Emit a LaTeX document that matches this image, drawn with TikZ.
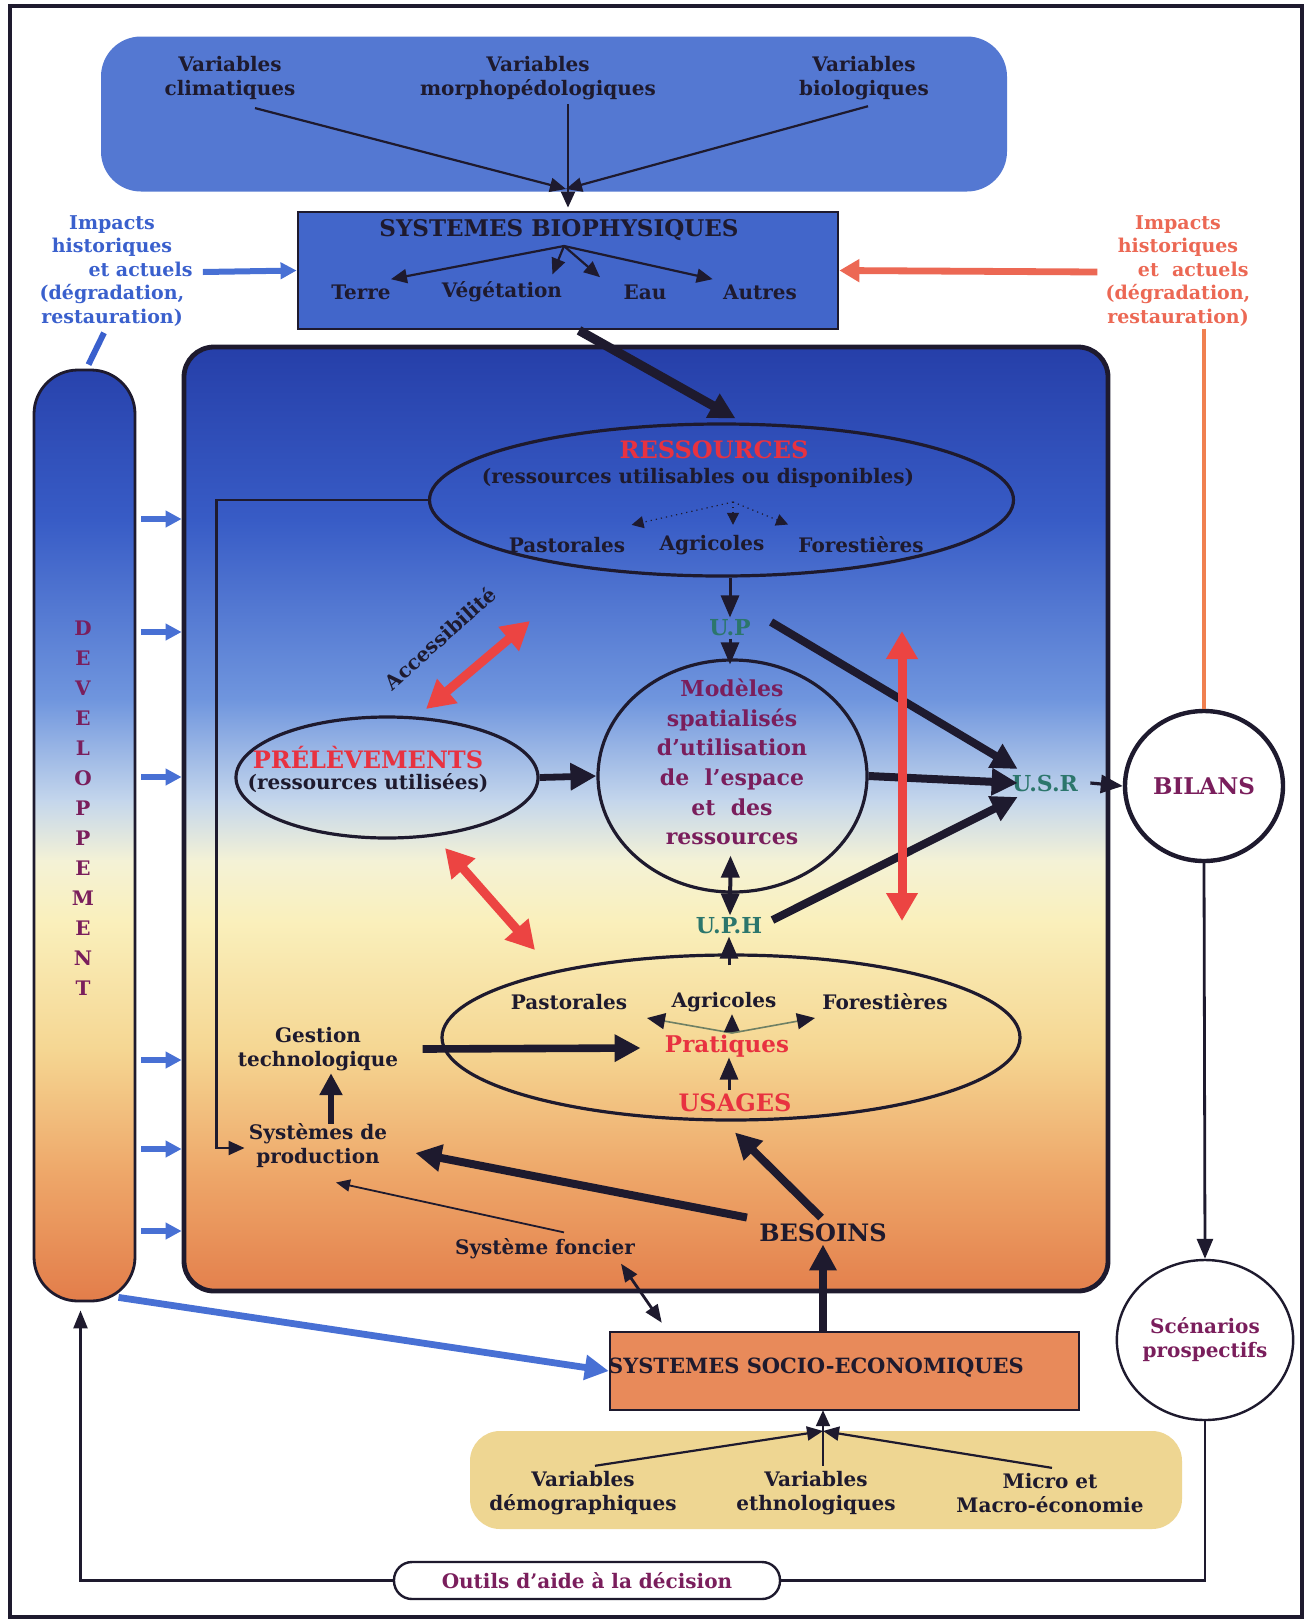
\documentclass[tikz,border=0pt]{standalone}
\usepackage{fontspec}
\setmainfont{DejaVu Serif}
\usetikzlibrary{arrows.meta,shapes.geometric,calc}

% palette
\definecolor{ink}{RGB}{30,26,46}
\definecolor{skytop}{RGB}{84,120,210}
\definecolor{skybox}{RGB}{66,102,202}
\definecolor{impblue}{RGB}{58,96,205}
\definecolor{impsalmon}{RGB}{236,104,84}
\definecolor{lblred}{RGB}{232,50,64}
\definecolor{arrred}{RGB}{236,68,66}
\definecolor{arrblue}{RGB}{72,112,212}
\definecolor{orangeline}{RGB}{240,128,80}
\definecolor{plum}{RGB}{122,30,92}
\definecolor{unitgreen}{RGB}{44,118,108}
\definecolor{sseorange}{RGB}{232,138,90}
\definecolor{sand}{RGB}{238,214,146}
\definecolor{fanline}{RGB}{110,128,100}
\definecolor{gradA}{RGB}{36,60,166}
\definecolor{gradB}{RGB}{56,92,198}
\definecolor{gradC}{RGB}{112,150,222}
\definecolor{gradD}{RGB}{196,214,236}
\definecolor{gradE}{RGB}{244,242,214}
\definecolor{gradF}{RGB}{250,240,188}
\definecolor{gradG}{RGB}{245,214,146}
\definecolor{gradH}{RGB}{238,168,106}
\definecolor{gradI}{RGB}{226,122,72}

% stacked colour bands, from deep blue at the top to orange at the bottom
\newcommand\gradbands[2]{%
  \shade[top color=gradA,bottom color=gradB] (#1,330) rectangle (#2,521);
  \shade[top color=gradB,bottom color=gradC] (#1,520) rectangle (#2,701);
  \shade[top color=gradC,bottom color=gradD] (#1,700) rectangle (#2,801);
  \shade[top color=gradD,bottom color=gradE] (#1,800) rectangle (#2,861);
  \shade[top color=gradE,bottom color=gradF] (#1,860) rectangle (#2,921);
  \shade[top color=gradF,bottom color=gradG] (#1,920) rectangle (#2,1051);
  \shade[top color=gradG,bottom color=gradH] (#1,1050) rectangle (#2,1171);
  \shade[top color=gradH,bottom color=gradI] (#1,1170) rectangle (#2,1310);
}

\tikzset{
  lbl/.style={font=\fontsize{10}{12}\selectfont\bfseries, text=ink, align=center, inner sep=1pt},
  lblbig/.style={lbl, font=\fontsize{12}{14}\selectfont\bfseries},
  unitlbl/.style={lbl, text=unitgreen, font=\fontsize{11}{13}\selectfont\bfseries},
  oval/.style={ellipse, draw=ink, line width=1.6pt, inner sep=0pt},
  arrheavy/.style={draw=ink, line width=4pt, -{Triangle[length=13pt,width=13pt]}},
  arrmed/.style={draw=ink, line width=2.8pt, -{Triangle[length=11pt,width=11pt]}},
  arrthin/.style={draw=ink, line width=0.9pt, -{Triangle[length=7pt,width=6pt]}},
  arrwedge/.style={draw=ink, line width=1.5pt, -{Triangle[length=11pt,width=9pt]}},
  arrwedgetwo/.style={draw=ink, line width=1.5pt, {Triangle[length=11pt,width=9pt]}-{Triangle[length=11pt,width=9pt]}},
  arrfan/.style={draw=ink, line width=1.1pt, -{Triangle[length=8pt,width=7pt]}},
  arrredtwo/.style={draw=arrred, line width=4.5pt, {Triangle[length=14pt,width=15pt]}-{Triangle[length=14pt,width=15pt]}},
  arrblue/.style={draw=arrblue, line width=2.6pt, -{Triangle[length=8pt,width=8pt]}},
}

\begin{document}
\begin{tikzpicture}[x=0.5pt,y=-0.5pt]
\useasboundingbox (0,0) rectangle (1311,1623);
\fill[white] (0,0) rectangle (1311,1623);
\draw[ink, line width=2.2pt] (10,6) rectangle (1302,1617);

% ---------- biophysical variables ----------
\node[fill=skytop, rounded corners=20pt, minimum width=453pt, minimum height=77.5pt, inner sep=0pt] (biovars) at (554,114) {};
\node[lbl] (clim) at (230,78) {Variables\\climatiques};
\node[lbl] (morph) at (538,78) {Variables\\morphopédologiques};
\node[lbl] (biol) at (864,78) {Variables\\biologiques};

\node[draw=ink, line width=1.4pt, fill=skybox, minimum width=270pt, minimum height=58.5pt, inner sep=0pt] (sb) at (568,270.5) {};
\node[lbl, font=\fontsize{11.5}{13}\selectfont\bfseries] (sbtitle) at (559,230) {SYSTEMES BIOPHYSIQUES};
\node[lbl] (terre) at (361,292) {Terre};
\node[lbl] (veg) at (502,292) {Végétation};
\node[lbl] (eau) at (645,292) {Eau};
\node[lbl] (autres) at (760,292) {Autres};

\coordinate (conv) at (566,189);
\draw[arrfan] ($(clim.south)+(25,6)$) -- (conv);
\draw[arrfan] ($(biol.south)+(4,4)$) -- (conv);
\draw[arrfan] ($(morph.south)+(30,2)$) -- ($(sb.north)+(0,-3)$);

\coordinate (sbfan) at (564,246);
\draw[arrfan] (sbfan) -- ($(terre.north east)+(-2,-3)$);
\draw[arrfan] (sbfan) -- ($(veg.north east)+(-12,-5)$);
\draw[arrfan] (sbfan) -- ($(eau.north)+(-45,-5)$);
\draw[arrfan] (sbfan) -- ($(autres.north west)+(-8,-3)$);

% ---------- historical impacts ----------
\node[lbl, text=impblue, font=\fontsize{9.5}{11.75}\selectfont\bfseries] (impL) at (112,271)
  {Impacts\\historiques\\\hspace*{3em}et actuels\\(dégradation,\\restauration)};
\node[lbl, text=impsalmon, font=\fontsize{9.5}{11.75}\selectfont\bfseries] (impR) at (1178,271)
  {Impacts\\historiques\\\hspace*{1.6em}et~~actuels\\(dégradation,\\restauration)};
\draw[arrblue, line width=3pt] ($(impL.east)+(8,1)$) -- (sb.west);
\draw[draw=impsalmon, line width=3.4pt, -{Triangle[length=10pt,width=11pt]}] ($(impR.west)+(-6,1)$) -- (sb.east);

% ---------- shaded frames ----------
\begin{scope}
  \clip[rounded corners=15pt] (184,347) rectangle (1108,1291);
  \gradbands{180}{1115}
\end{scope}
\node[draw=ink, line width=2.4pt, rounded corners=15pt, minimum width=462pt, minimum height=472pt, inner sep=0pt] (inner) at (646,819) {};

\begin{scope}
  \clip[rounded corners=22pt] (34,370) rectangle (135,1301);
  \gradbands{30}{140}
\end{scope}
\node[draw=ink, line width=1.4pt, rounded corners=22pt, minimum width=50.5pt, minimum height=465.5pt, inner sep=0pt] (dev) at (84.5,835.5) {};
\node[font=\fontsize{10}{15}\selectfont\bfseries, text=plum, align=center, inner sep=0pt] (devword) at (83,808)
  {D\\E\\V\\E\\L\\O\\P\\P\\E\\M\\E\\N\\T};

\draw[draw=impblue, line width=3pt] ($(impL.south)+(-8,4)$) -- ($(dev.north)+(4,-4)$);

\foreach \yy in {519,632,777,1060,1149,1231}
  \draw[arrblue] ($(dev.east|-0,\yy)+(5,0)$) -- (inner.west|-0,\yy);

% ---------- resources ----------
\node[oval, minimum width=292pt, minimum height=76pt] (res) at (721.5,500) {};
\node[lblbig, text=lblred] (restitle) at (714,450) {RESSOURCES};
\node[lbl] (ressub) at (698,478) {(ressources utilisables ou disponibles)};
\node[lbl] (rpast) at (567,545) {Pastorales};
\node[lbl] (ragri) at (712,545) {Agricoles};
\node[lbl] (rfor) at (861,545) {Forestières};
\coordinate (resfan) at (733,502);
\draw[ink, line width=0.6pt, dotted, -{Triangle[length=6pt,width=6pt]}] (resfan) -- ($(rpast.north east)+(4,-10)$);
\draw[ink, line width=0.6pt, dotted, -{Triangle[length=6pt,width=6pt]}] (resfan) -- ($(ragri.north)+(21,-8)$);
\draw[ink, line width=0.6pt, dotted, -{Triangle[length=6pt,width=6pt]}] (resfan) -- ($(rfor.north west)+(-8,-10)$);

\draw[arrheavy, line width=4.6pt] ($(sb.south)+(11,0)$) -- ($(res.north)+(14,-4)$);

% ---------- units and models ----------
\node[unitlbl] (up) at (730,628) {U.P};
\node[oval, minimum width=134.5pt, minimum height=116pt] (mod) at (732.5,776) {};
\node[lbl, text=plum, font=\fontsize{11}{14.8}\selectfont\bfseries] (modtxt) at (732,762)
  {Modèles\\spatialisés\\d'utilisation\\de~~l'espace\\et~~des\\ressources};
\node[unitlbl] (uph) at (729,926) {U.P.H};
\node[unitlbl] (usr) at (1045,783) {U.S.R};

\draw[arrwedge] (up.north|-res.south) -- (up.north);
\draw[arrwedge] (up.south) -- ($(up.south|-mod.north)+(0,6)$);
\draw[arrwedgetwo, line width=2pt] ($(mod.south)+(-2,-38)$) -- ($(uph.north)+(1,0)$);

\draw[arrheavy] ($(up.east)+(18,-6)$) -- ($(usr.west)+(8,-14)$);
\draw[arrheavy] (mod.east) -- ($(usr.west)+(8,0)$);
\draw[arrheavy] ($(uph.east)+(8,-6)$) -- ($(usr.west)+(8,14)$);

\draw[arrredtwo] (902,631) -- (902,921);

% ---------- withdrawals ----------
\node[oval, minimum width=151pt, minimum height=60.5pt] (prel) at (387,777.5) {};
\node[lblbig, text=lblred] (preltitle) at (368,758) {PRÉLÈVEMENTS};
\node[lbl] (prelsub) at (368,783) {(ressources utilisées)};
\draw[arrheavy, line width=3.4pt] (prel.east) -- (mod.west);

\coordinate (accA) at (426,709);
\coordinate (accB) at (530,621);
\draw[arrredtwo] (accA) -- (accB);
\node[lbl, rotate=42] (acc) at (440,638) {Accessibilité};

\coordinate (pracA) at (445,848);
\coordinate (pracB) at (535,950);
\draw[arrredtwo] (pracA) -- (pracB);

% ---------- practices and uses ----------
\node[oval, minimum width=289pt, minimum height=82.5pt] (usages) at (731,1037.5) {};
\node[lbl] (upast) at (569,1002) {Pastorales};
\node[lbl] (uagri) at (724,1002) {Agricoles};
\node[lbl] (ufor) at (885,1002) {Forestières};
\node[lbl, text=lblred, font=\fontsize{11.5}{13}\selectfont\bfseries] (prat) at (727,1046) {Pratiques};
\node[lblbig, text=lblred] (usg) at (735,1103) {USAGES};

\draw[arrwedge] ($(uph.south|-usages.north)+(0,12)$) -- (uph.south);
\coordinate (pratfan) at (732,1033);
\draw[fanline, line width=0.8pt, -{Triangle[length=9pt,width=8pt,color=ink]}] (pratfan) -- (647,1018);
\draw[fanline, line width=0.8pt, -{Triangle[length=9pt,width=8pt,color=ink]}] (pratfan) -- ($(uagri.south)+(8,0)$);
\draw[fanline, line width=0.8pt, -{Triangle[length=9pt,width=8pt,color=ink]}] (pratfan) -- (815,1018);
\draw[arrwedge] ($(usg.north)+(-6,-2)$) -- ($(prat.south)+(2,-2)$);

% ---------- production side ----------
\node[lbl] (gest) at (318,1049) {Gestion\\technologique};
\node[lbl] (sysprod) at (318,1146) {Systèmes de\\production};
\node[lblbig] (besoins) at (823,1233) {BESOINS};
\node[lbl] (foncier) at (545,1249) {Système foncier};

\draw[arrheavy, line width=3.8pt] ($(gest.east)+(22,0)$) -- ($(prat.west)+(-22,2)$);
\draw[arrmed] ($(sysprod.north)+(13,2)$) -- ($(gest.south)+(13,0)$);
\draw[ink, line width=1.1pt, -{Triangle[length=8pt,width=7pt]}] (res.west) -| ($(sysprod.west)+(-30,2)$) -- ($(sysprod.west)+(-2,2)$);

\draw[arrheavy] ($(besoins.north west)+(-10,-4)$) -- ($(sysprod.east)+(26,7)$);
\draw[arrheavy] ($(besoins.north)+(-2,-4)$) -- ($(usg.south)+(0,18)$);
\draw[arrthin] ($(foncier.north)+(19,-4)$) -- ($(sysprod.south)+(18,12)$);

% ---------- socio-economic systems ----------
\node[draw=ink, line width=1.2pt, fill=sseorange, minimum width=234.5pt, minimum height=39pt, inner sep=0pt] (sse) at (844.5,1371) {};
\node[lbl, font=\fontsize{10.5}{12}\selectfont\bfseries] (ssetxt) at (816,1368) {SYSTEMES SOCIO-ECONOMIQUES};
\draw[arrheavy] (besoins.south|-sse.north) -- (besoins.south);
\draw[ink, line width=1.4pt, {Triangle[length=9pt,width=7pt]}-{Triangle[length=9pt,width=7pt]}] ($(foncier.south)+(76,2)$) -- ($(sse.north west)+(53,-8)$);
\draw[arrblue, line width=3.4pt, -{Triangle[length=12pt,width=12pt]}] ($(dev.south)+(34,-5)$) -- (sse.west);

\node[fill=sand, rounded corners=15pt, minimum width=356pt, minimum height=49pt, inner sep=0pt] (socvars) at (826,1480) {};
\node[lbl] (dem) at (583,1493) {Variables\\démographiques};
\node[lbl] (eth) at (816,1493) {Variables\\ethnologiques};
\node[lbl] (eco) at (1050,1493) {Micro et\\Macro-économie};
\coordinate (conv2) at (823,1431);
\draw[arrfan] ($(dem.north)+(12,-3)$) -- (conv2);
\draw[arrfan] ($(eco.north)+(2,-3)$) -- (conv2);
\draw[arrfan] ($(eth.north)+(7,-3)$) -- ($(sse.south -| conv2)+(0,-1)$);

% ---------- assessment loop ----------
\node[draw=ink, line width=2.2pt, ellipse, fill=white, minimum width=79pt, minimum height=75pt, inner sep=0pt,
      text=plum, font=\fontsize{11.5}{13}\selectfont\bfseries] (bilans) at (1204,786) {BILANS};
\node[draw=ink, line width=1.2pt, ellipse, fill=white, minimum width=85pt, minimum height=80pt, inner sep=0pt,
      text=plum, align=center, font=\fontsize{10}{12}\selectfont\bfseries] (scen) at (1205,1340) {Scénarios\\prospectifs};
\node[draw=ink, line width=1.2pt, rounded corners=9pt, fill=white, minimum width=193pt, minimum height=18.5pt, inner sep=0pt,
      text=plum, font=\fontsize{10}{12}\selectfont\bfseries] (outils) at (587,1580.5) {Outils d'aide à la décision};

\draw[orangeline, line width=2.2pt] (bilans.north|-impR.south) -- (bilans.north);
\draw[arrwedge, line width=1.6pt] ($(usr.east)+(10,0)$) -- (bilans.west);
\draw[ink, line width=1.4pt, -{Triangle[length=10pt,width=8pt]}] (bilans.south) -- (scen.north);
\draw[ink, line width=1.2pt] (outils.east) -| (scen.south);
\draw[ink, line width=1.2pt, -{Triangle[length=9pt,width=7pt]}] (outils.west) -| ($(dev.south)+(-4,8)$);
\end{tikzpicture}
\end{document}
